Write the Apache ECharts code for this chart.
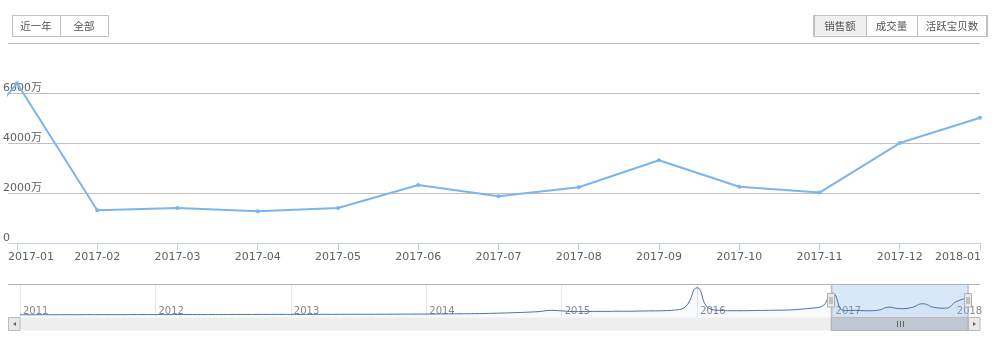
<!DOCTYPE html>
<html><head><meta charset="utf-8">
<script src="https://cdn.jsdelivr.net/npm/echarts@6/dist/echarts.min.js"></script>
<style>html,body{margin:0;padding:0;background:#fff}#c{width:1000px;height:341px}</style>
</head><body><div id="c"></div>
<script>
// ---------------- data ----------------
const navYearLabels = ['2011','2012','2013','2014','2015','2016','2017','2018'];
// monthly sales (万), 2011-01 .. 2016-11
const earlyValues = [
  120,110,130,120,140,130,150,140,160,150,170,180,
  170,160,180,190,180,200,190,210,200,220,230,240,
  230,220,240,250,240,260,270,260,280,290,300,320,
  330,350,380,400,430,470,560,640,760,880,1050,1400,
  1250,1050,1050,1100,1100,1150,1150,1200,1250,1300,1500,2600,
  8000,2100,1400,1300,1300,1350,1400,1450,1500,1700,2000
];
const recentMonths = ['2016-12','2017-01','2017-02','2017-03','2017-04','2017-05','2017-06',
  '2017-07','2017-08','2017-09','2017-10','2017-11','2017-12','2018-01'];
const recentValues = [2480,6400,1320,1410,1280,1410,2330,1880,2240,3320,2265,2030,4010,5025];
const yUnit = '万';
const rangeButtons = ['近一年','全部'];
const metricButtons = ['销售额','成交量','活跃宝贝数'];

// ---------------- build ----------------
const FONT = '"DejaVu Sans","Noto Sans CJK SC",sans-serif';
const CJK = '"Noto Sans CJK SC",sans-serif';
const history = earlyValues.concat(recentValues);
const offset = earlyValues.length;
const navData = history.map((v, i) => [i, v]);
const mainData = recentValues.map((v, i) => [offset + i, v]);
const mainTicks = recentMonths.map((m, i) => offset + i).slice(1);
const viewMin = offset + 1 - 0.112, viewMax = history.length - 1;
const dMin = Math.min(...history), dMax = Math.max(...history);
const pad = (dMax - dMin) * 0.1;

const chart = echarts.init(document.getElementById('c'), null, {renderer: 'canvas'});
chart.setOption({
  animation: false,
  grid: [
    {left: 8, right: 20, top: 73.3, height: 170},
    {left: 20, right: 32, top: 285, height: 32.5}
  ],
  xAxis: [
    {type: 'value', gridIndex: 0, min: viewMin, max: viewMax,
     axisLine: {lineStyle: {color: '#c0d0e0'}},
     axisTick: {customValues: mainTicks, length: 7, lineStyle: {color: '#c0d0e0'}},
     axisLabel: {customValues: mainTicks, margin: 8, color: '#606060', fontSize: 11, fontFamily: FONT,
       formatter: v => {
         const lab = recentMonths[v - offset];
         if (v === mainTicks[0]) return '{f|' + lab + '}';
         if (v === mainTicks[mainTicks.length - 1]) return '{l|' + lab + '}';
         return lab;
       },
       rich: {
         f: {padding: [0, 0, 0, 28], fontSize: 11, fontFamily: FONT, color: '#606060'},
         l: {padding: [0, 44, 0, 0], fontSize: 11, fontFamily: FONT, color: '#606060'}
       }},
     splitLine: {show: false}},
    {type: 'value', gridIndex: 1, min: 0, max: history.length - 1, interval: 12,
     axisLine: {show: false}, axisTick: {show: false},
     axisLabel: {inside: true, align: 'left', verticalAlign: 'bottom', margin: 1, padding: [0, 0, 0, 3],
       color: '#888', fontSize: 10, fontFamily: FONT, alignMaxLabel: 'center',
       formatter: v => navYearLabels[Math.round(v / 12)]},
     splitLine: {show: true, lineStyle: {color: '#e8e8e8'}}}
  ],
  yAxis: [
    {type: 'value', gridIndex: 0, min: 0, max: 6800, interval: 2000,
     axisLine: {show: false}, axisTick: {show: false},
     axisLabel: {align: 'left', verticalAlign: 'bottom', margin: 5, color: '#606060', fontSize: 11,
       fontFamily: FONT, showMaxLabel: false,
       formatter: v => v === 0 ? '0' : v + yUnit},
     splitLine: {lineStyle: {color: '#c0c0c0'}, showMinLine: false, showMaxLine: false}},
    {type: 'value', gridIndex: 1, min: dMin - pad, max: dMax + pad, show: false,
     splitLine: {show: false}}
  ],
  series: [
    {type: 'line', xAxisIndex: 0, yAxisIndex: 0, data: mainData, clip: true,
     symbol: 'circle', symbolSize: 4, showSymbol: true,
     lineStyle: {color: '#7cb5ec', width: 2}, itemStyle: {color: '#7cb5ec'}},
    {type: 'line', xAxisIndex: 1, yAxisIndex: 1, data: navData, smooth: true, symbol: 'none',
     lineStyle: {color: '#4572a7', width: 1},
     areaStyle: {color: 'rgba(69,114,167,0.05)', origin: 'start'},
     markArea: {silent: true, itemStyle: {color: 'rgba(128,179,236,0.3)'},
       data: [[{xAxis: viewMin}, {xAxis: viewMax}]]}}
  ]
});

// ---------------- UI chrome (buttons, navigator outline, scrollbar) ----------------
const zMin = chart.convertToPixel({xAxisIndex: 1}, viewMin);
const zMax = chart.convertToPixel({xAxisIndex: 1}, viewMax);
const navTop = 284.5, navBottom = 317.5, sbBottom = 330.5;
const g = [];
// separator
g.push({type: 'line', shape: {x1: 8, y1: 43.5, x2: 980, y2: 43.5}, style: {stroke: '#bbbbbb', lineWidth: 1}});
// range buttons
g.push({type: 'rect', shape: {x: 12.5, y: 15.5, width: 96, height: 21}, style: {fill: '#fff', stroke: '#c0c0c0', lineWidth: 1}});
g.push({type: 'line', shape: {x1: 60.5, y1: 15.5, x2: 60.5, y2: 36.5}, style: {stroke: '#c0c0c0'}});
[36, 84].forEach((cx, i) => g.push({type: 'text', style: {text: rangeButtons[i], x: cx, y: 26.5,
  fill: '#555', font: '10.5px ' + CJK, align: 'center', verticalAlign: 'middle'}}));
// metric buttons
g.push({type: 'rect', shape: {x: 813.5, y: 15.5, width: 174, height: 21}, style: {fill: '#fff', stroke: '#c0c0c0', lineWidth: 1}});
g.push({type: 'rect', shape: {x: 814, y: 16, width: 52, height: 20}, style: {fill: '#f0f0f0'}});
g.push({type: 'line', shape: {x1: 814, y1: 15.5, x2: 814, y2: 36.5}, style: {stroke: '#c0c0c0', lineWidth: 2}});
g.push({type: 'line', shape: {x1: 987, y1: 15.5, x2: 987, y2: 36.5}, style: {stroke: '#c0c0c0', lineWidth: 2}});
g.push({type: 'line', shape: {x1: 866.5, y1: 15.5, x2: 866.5, y2: 36.5}, style: {stroke: '#c0c0c0'}});
g.push({type: 'line', shape: {x1: 917.5, y1: 15.5, x2: 917.5, y2: 36.5}, style: {stroke: '#c0c0c0'}});
[840, 891.5, 952].forEach((cx, i) => g.push({type: 'text', style: {text: metricButtons[i], x: cx, y: 26.5,
  fill: '#555', font: '10.5px ' + CJK, align: 'center', verticalAlign: 'middle'}}));
// scrollbar track
g.push({type: 'rect', shape: {x: 8, y: navBottom, width: 972, height: sbBottom - navBottom}, style: {fill: '#eeeeee'}});
// scrollbar thumb
g.push({type: 'rect', shape: {x: zMin, y: navBottom, width: zMax - zMin, height: sbBottom - navBottom}, style: {fill: '#bfc8d1', stroke: '#bbbbbb'}});
const cx = Math.round((zMin + zMax) / 2) + 0.5;
[-3, 0, 3].forEach(d => g.push({type: 'line', shape: {x1: cx + d, y1: 321, x2: cx + d, y2: 327}, style: {stroke: '#666', lineWidth: 1}}));
// scrollbar buttons
[[8, -1], [968, 1]].forEach(([bx, dir]) => {
  g.push({type: 'rect', shape: {x: bx + 0.5, y: navBottom, width: 11.5, height: sbBottom - navBottom}, style: {fill: '#ebe7e8', stroke: '#bbbbbb'}});
  const mx = bx + 6.5, my = (navBottom + sbBottom) / 2;
  g.push({type: 'polygon', shape: {points: [[mx + dir * 1.5, my], [mx - dir * 1.5, my - 2], [mx - dir * 1.5, my + 2]]}, style: {fill: '#666'}});
});
// navigator outline
g.push({type: 'polyline', shape: {points: [[8, navTop], [zMin, navTop], [zMin, sbBottom], [zMax, sbBottom], [zMax, navTop], [980, navTop]]},
  style: {stroke: '#b2b1b6', lineWidth: 1, fill: null}});
g.push({type: 'line', shape: {x1: zMin, y1: navTop, x2: zMax, y2: navTop}, style: {stroke: '#b2b1b6', lineWidth: 1}});
// handles
[zMin, zMax].forEach(hx => {
  const x0 = Math.round(hx) - 3.5;
  g.push({type: 'rect', shape: {x: x0, y: 293.5, width: 7, height: 13.5}, style: {fill: '#ebe7e8', stroke: '#b2b1b6'}});
  g.push({type: 'line', shape: {x1: x0 + 2.5, y1: 297, x2: x0 + 2.5, y2: 304}, style: {stroke: '#999'}});
  g.push({type: 'line', shape: {x1: x0 + 4.5, y1: 297, x2: x0 + 4.5, y2: 304}, style: {stroke: '#999'}});
});
chart.setOption({graphic: g.map(e => Object.assign({silent: true, z: 100}, e))});
</script>
</body></html>
